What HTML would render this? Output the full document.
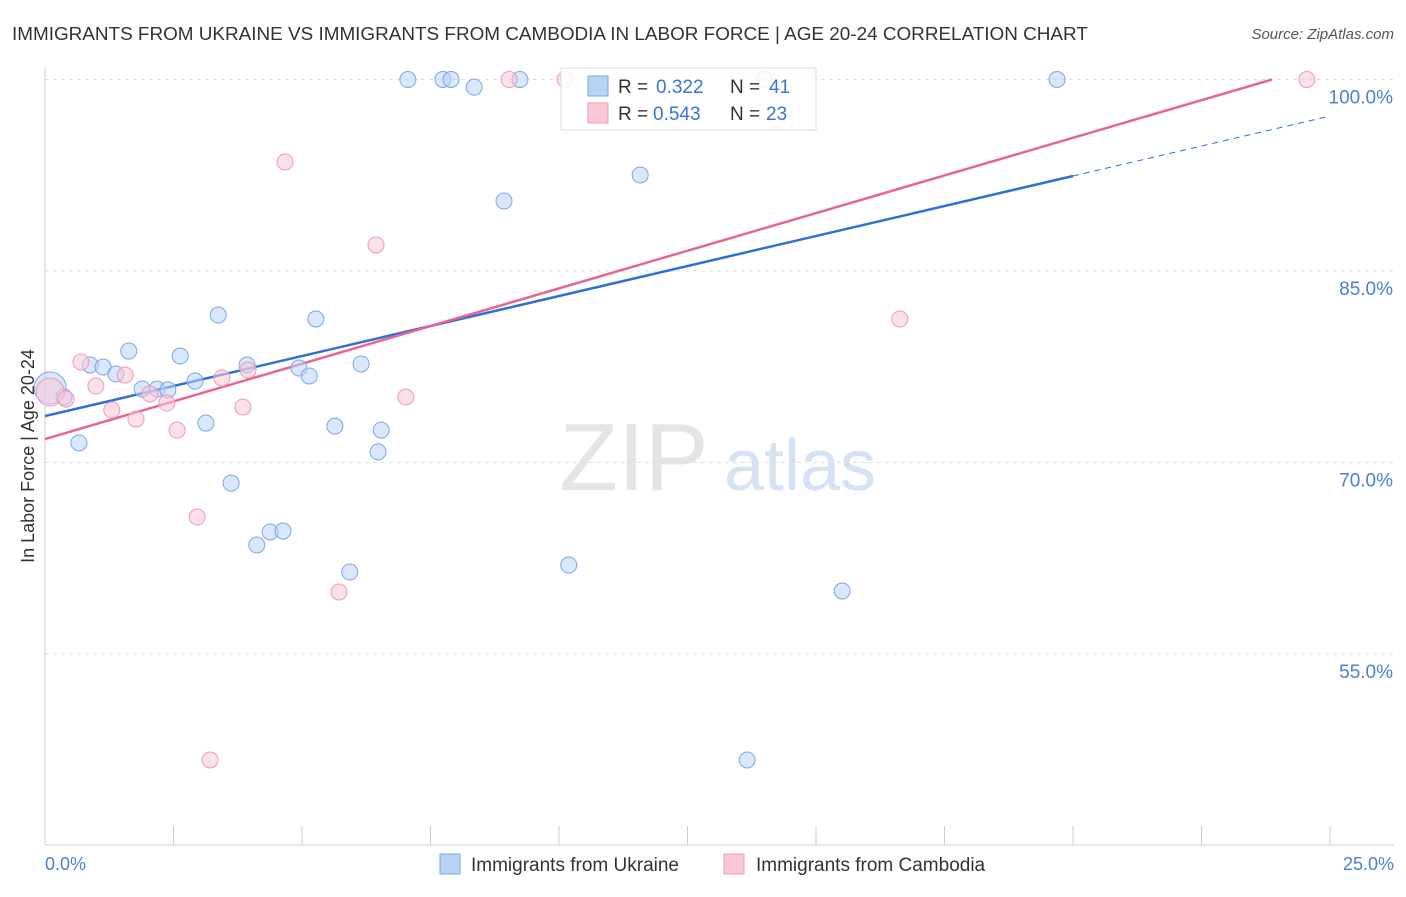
<!DOCTYPE html>
<html><head><meta charset="utf-8"><style>
body{margin:0;background:#fff;font-family:"Liberation Sans",sans-serif}
svg text{font-family:"Liberation Sans",sans-serif}
</style></head><body>
<svg id="chart" width="1406" height="892" xmlns="http://www.w3.org/2000/svg">
<text x="12" y="40" font-size="18.9" fill="#333">IMMIGRANTS FROM UKRAINE VS IMMIGRANTS FROM CAMBODIA IN LABOR FORCE | AGE 20-24 CORRELATION CHART</text>
<text x="1394" y="39" font-size="15" fill="#555" text-anchor="end" font-style="italic">Source: ZipAtlas.com</text>
<text x="634" y="490" font-size="96" fill="#e4e4e4" text-anchor="middle" font-family="Liberation Serif">ZIP</text>
<text x="800" y="490" font-size="72" fill="#d5e2f3" text-anchor="middle">atlas</text>
<g id="grid"></g><g id="axes"></g><g id="lines"></g><g id="pts"></g>
<text transform="translate(34,456) rotate(-90)" font-size="18" fill="#333" text-anchor="middle">In Labor Force | Age 20-24</text>
<text x="45" y="870" font-size="18" fill="#4a7fd6">0.0%</text>
<text x="1394" y="870" font-size="18" fill="#4a7fd6" text-anchor="end">25.0%</text>
<g>
<rect x="561" y="68" width="255" height="62" fill="#fff" fill-opacity="0.85" stroke="#ddd"/>
<rect x="588" y="76" width="20" height="20" fill="#b9d3f5" stroke="#7aa6e6"/>
<rect x="588" y="103" width="20" height="20" fill="#f9c7d6" stroke="#ee9ab4"/>
<text x="618" y="93" font-size="19" fill="#333">R =</text><text x="656" y="93" font-size="19" fill="#3b74d0">0.322</text>
<text x="730" y="93" font-size="19" fill="#333">N =</text><text x="769" y="93" font-size="19" fill="#3b74d0">41</text>
<text x="618" y="120" font-size="19" fill="#333">R =</text><text x="653" y="120" font-size="19" fill="#3b74d0">0.543</text>
<text x="730" y="120" font-size="19" fill="#333">N =</text><text x="766" y="120" font-size="19" fill="#3b74d0">23</text>
</g>
<g>
<rect x="440" y="854" width="20" height="20" fill="#b9d3f5" stroke="#7aa6e6"/>
<text x="471" y="871" font-size="19" fill="#333">Immigrants from Ukraine</text>
<rect x="724" y="854" width="20" height="20" fill="#f9c7d6" stroke="#ee9ab4"/>
<text x="756" y="871" font-size="19" fill="#333">Immigrants from Cambodia</text>
</g>
</svg>
<script>
const yTicks=[100,85,70,55];
const xTickVals=[0,2.5,5,7.5,10,12.5,15,17.5,20,22.5,25];
const ukX=[0.10,0.37,0.66,0.88,1.13,1.38,1.63,1.89,2.18,2.39,2.63,2.92,3.13,3.37,3.62,3.93,4.12,4.38,4.63,4.94,5.14,5.27,5.64,5.93,6.15,6.48,6.54,7.06,7.74,7.90,8.35,8.93,9.24,10.19,11.58,13.66,13.99,15.51,19.69];
const ukY=[75.84,75.13,71.53,77.64,77.48,76.93,78.73,75.76,75.76,75.68,78.34,76.38,73.09,81.55,68.39,77.64,63.54,64.56,64.64,77.40,76.78,81.24,72.85,61.42,77.72,70.83,72.54,100,100,100,99.4,90.48,100,61.97,92.52,46.70,100,59.94,100];
const khX=[0.10,0.41,0.70,0.99,1.30,1.56,1.77,2.04,2.37,2.57,2.96,3.21,3.44,3.85,3.95,4.67,5.72,6.44,7.02,9.03,10.12,16.63,24.55];
const khY=[75.52,74.97,77.87,75.99,74.11,76.85,73.40,75.37,74.66,72.54,65.73,46.70,76.62,74.35,77.25,93.54,59.86,87.04,75.13,100,100,81.24,100];
const ukTrend=[73.64,97.14];
const khTrend=[71.84,100];
const X=v=>45+v*51.4, Y=v=>79.5+(100-v)*12.767;
const NS='http://www.w3.org/2000/svg';
function mk(p,t,a){const e=document.createElementNS(NS,t);for(const k in a)e.setAttribute(k,a[k]);document.getElementById(p).appendChild(e);return e;}
yTicks.forEach(t=>{
 const l=mk('grid','line',{x1:45,x2:1394,y1:Y(t),y2:Y(t),stroke:'#ddd','stroke-dasharray':'4,4'});
 
 
 const tx=mk('grid','text',{x:1393,y:Y(t)+24,'font-size':19,fill:'#4a7fd6','text-anchor':'end'});
 tx.textContent=t.toFixed(1)+'%';
 
 
});
const ax=mk('axes','line',{x1:45,x2:1394,y1:845,y2:845,stroke:'#ccc'});


const ay=mk('axes','line',{x1:45,x2:45,y1:68,y2:845,stroke:'#ccc'});


xTickVals.forEach(v=>{const t=mk('axes','line',{x1:X(v),x2:X(v),y1:826,y2:845,stroke:'#ccc'});
 
 });
function dot(x,y,f,s,r){return mk('pts','circle',{cx:X(x),cy:Y(y),r:r,fill:f,stroke:s,'stroke-width':1,'fill-opacity':0.55});}
ukX.forEach((x,i)=>{const c=dot(x,ukY[i],'#b9d3f5','#7aa6e6',i==0?16:8);
 
 });
khX.forEach((x,i)=>{const c=dot(x,khY[i],'#f9c7d6','#ee9ab4',i==0?14:8);
 
 });
const ub=(x)=>ukTrend[0]+(ukTrend[1]-ukTrend[0])*x/25;
const l1=mk('lines','line',{x1:X(0),y1:Y(ub(0)),x2:X(20),y2:Y(ub(20)),stroke:'#2f6fd6','stroke-width':2.5});


const l2=mk('lines','line',{x1:X(20),y1:Y(ub(20)),x2:X(25),y2:Y(ub(25)),stroke:'#2f6fd6','stroke-width':1,'stroke-dasharray':'6,5'});


const l3=mk('lines','line',{x1:X(0),y1:Y(khTrend[0]),x2:X(23.87),y2:Y(khTrend[1]),stroke:'#e8658f','stroke-width':2.5});


</script>
</body></html>
